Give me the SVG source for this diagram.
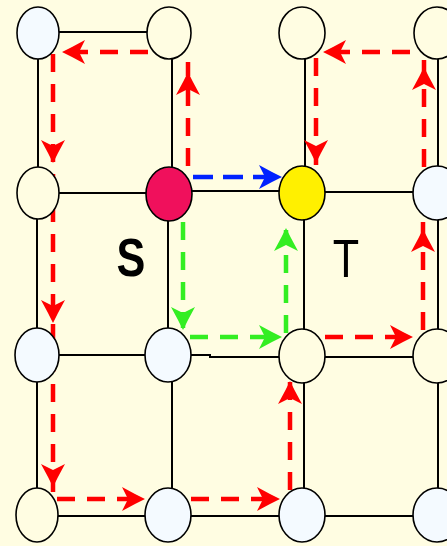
<svg xmlns="http://www.w3.org/2000/svg" xmlns:xlink="http://www.w3.org/1999/xlink" width="447" height="546" viewBox="0 0 447 546">
  <style>
    .edge { stroke: #000; stroke-width: 2; fill: none; }
    .node { stroke: #000; stroke-width: 1.6; }
    .light { fill: #f4faff; }
    .cream { fill: #fffde2; }
    .src { fill: #f0105c; }
    .dst { fill: #fff000; }
    .red { stroke: #ff0000; stroke-width: 4.5; fill: none; stroke-dasharray: 18 12; }
    .blue { stroke: #0022ff; stroke-width: 4.5; fill: none; stroke-dasharray: 20 10; }
    .green { stroke: #33ee22; stroke-width: 4.5; fill: none; stroke-dasharray: 18 12; }
    .label { font-family: "Liberation Sans", Arial, sans-serif; font-size: 54px; fill: #000; text-anchor: middle; }
  </style>
  <defs>
    <!-- swept dart arrowhead, tip at origin pointing along +x -->
    <path id="dart" d="M0,0 L-10,-5 L-23,-12 L-17,0 L-23,12 L-10,5 Z"/>
  </defs>

  <rect width="447" height="546" fill="#fffde2"/>

  <!-- grid edges -->
  <g id="edges">
    <line class="edge" x1="38" y1="32" x2="169" y2="32"/>
    <line class="edge" x1="38" y1="33" x2="38" y2="193"/>
    <line class="edge" x1="172" y1="33" x2="172" y2="193"/>
    <line class="edge" x1="305" y1="33" x2="305" y2="192"/>
    <line class="edge" x1="438" y1="33" x2="438" y2="192"/>

    <line class="edge" x1="38" y1="193" x2="169" y2="193"/>
    <line class="edge" x1="169" y1="191" x2="302" y2="191"/>
    <line class="edge" x1="302" y1="192" x2="437" y2="192"/>

    <line class="edge" x1="37" y1="193" x2="37" y2="355"/>
    <line class="edge" x1="168" y1="193" x2="168" y2="355"/>
    <line class="edge" x1="304" y1="192" x2="304" y2="357"/>
    <line class="edge" x1="438" y1="192" x2="438" y2="357"/>

    <line class="edge" x1="38" y1="355" x2="169" y2="355"/>
    <polyline class="edge" points="169,355 210,355 210,357 302,357"/>
    <line class="edge" x1="302" y1="357" x2="437" y2="357"/>

    <line class="edge" x1="37" y1="355" x2="37" y2="516"/>
    <line class="edge" x1="172" y1="355" x2="172" y2="516"/>
    <line class="edge" x1="304" y1="357" x2="304" y2="516"/>
    <line class="edge" x1="438" y1="357" x2="438" y2="516"/>

    <line class="edge" x1="38" y1="516" x2="437" y2="516"/>
  </g>

  <!-- path connectors -->
  <g id="connectors">
    <!-- red detour loop -->
    <line class="red" x1="148" y1="52" x2="60" y2="52"/>
    <line class="red" x1="53" y1="54" x2="53" y2="495"/>
    <line class="red" x1="57" y1="499" x2="143" y2="499"/>
    <line class="red" x1="191" y1="499" x2="278" y2="499"/>
    <line class="red" x1="290" y1="490" x2="290" y2="382"/>
    <line class="red" x1="325" y1="337" x2="411" y2="337"/>
    <line class="red" x1="423" y1="330" x2="423" y2="220"/>
    <line class="red" x1="424" y1="167" x2="424" y2="60"/>
    <line class="red" x1="410" y1="52" x2="321" y2="52"/>
    <line class="red" x1="316" y1="58" x2="316" y2="165"/>
    <line class="red" x1="188" y1="166" x2="188" y2="62"/>

    <use xlink:href="#dart" fill="#ff0000" transform="translate(62,52) rotate(180)"/>
    <use xlink:href="#dart" fill="#ff0000" transform="translate(53,163) rotate(90)"/>
    <use xlink:href="#dart" fill="#ff0000" transform="translate(53,323) rotate(90)"/>
    <use xlink:href="#dart" fill="#ff0000" transform="translate(53,487) rotate(90)"/>
    <use xlink:href="#dart" fill="#ff0000" transform="translate(145,499)"/>
    <use xlink:href="#dart" fill="#ff0000" transform="translate(280,499)"/>
    <use xlink:href="#dart" fill="#ff0000" transform="translate(290,381) rotate(-90)"/>
    <use xlink:href="#dart" fill="#ff0000" transform="translate(413,337)"/>
    <use xlink:href="#dart" fill="#ff0000" transform="translate(423,229) rotate(-90)"/>
    <use xlink:href="#dart" fill="#ff0000" transform="translate(424,67) rotate(-90)"/>
    <use xlink:href="#dart" fill="#ff0000" transform="translate(323,52) rotate(180)"/>
    <use xlink:href="#dart" fill="#ff0000" transform="translate(316,163) rotate(90)"/>
    <use xlink:href="#dart" fill="#ff0000" transform="translate(188,72) rotate(-90)"/>

    <!-- blue direct hop -->
    <line class="blue" x1="193" y1="177" x2="278" y2="177"/>
    <use xlink:href="#dart" fill="#0022ff" transform="translate(282,177)"/>

    <!-- green short detour -->
    <line class="green" x1="183" y1="222" x2="183" y2="328"/>
    <line class="green" x1="190" y1="337" x2="280" y2="337"/>
    <line class="green" x1="286" y1="333" x2="286" y2="230"/>
    <use xlink:href="#dart" fill="#33ee22" transform="translate(183,330) rotate(90)"/>
    <use xlink:href="#dart" fill="#33ee22" transform="translate(282,337)"/>
    <use xlink:href="#dart" fill="#33ee22" transform="translate(286,228) rotate(-90)"/>
  </g>

  <!-- nodes, row by row -->
  <g id="n11"><ellipse class="node light" cx="38" cy="33" rx="21" ry="26"/></g>
  <g id="n12"><ellipse class="node cream" cx="169" cy="33" rx="22" ry="26"/></g>
  <g id="n13"><ellipse class="node cream" cx="302" cy="33" rx="23" ry="26"/></g>
  <g id="n14"><ellipse class="node cream" cx="437" cy="33" rx="23" ry="26"/></g>

  <g id="n21"><ellipse class="node cream" cx="38" cy="193" rx="21" ry="26"/></g>
  <g id="S"><ellipse class="node src" cx="169" cy="194" rx="23" ry="27"/></g>
  <g id="T"><ellipse class="node dst" cx="302" cy="193" rx="23" ry="27"/></g>
  <g id="n24"><ellipse class="node light" cx="437" cy="193" rx="24" ry="27"/></g>

  <g id="n31"><ellipse class="node light" cx="37" cy="355" rx="22" ry="27"/></g>
  <g id="n32"><ellipse class="node light" cx="168" cy="355" rx="23" ry="27"/></g>
  <g id="n33"><ellipse class="node cream" cx="302" cy="356" rx="23" ry="27"/></g>
  <g id="n34"><ellipse class="node cream" cx="437" cy="356" rx="24" ry="27"/></g>

  <g id="n41"><ellipse class="node cream" cx="37" cy="515" rx="21" ry="27"/></g>
  <g id="n42"><ellipse class="node light" cx="168" cy="515" rx="23" ry="27"/></g>
  <g id="n43"><ellipse class="node light" cx="302" cy="515" rx="23" ry="27"/></g>
  <g id="n44"><ellipse class="node light" cx="437" cy="515" rx="24" ry="27"/></g>

  <!-- labels -->
  <g id="labels">
    <text class="label" transform="translate(131,276) scale(0.8,1)" font-weight="bold">S</text>
    <text class="label" transform="translate(346,277) scale(0.8,1)">T</text>
  </g>
</svg>
